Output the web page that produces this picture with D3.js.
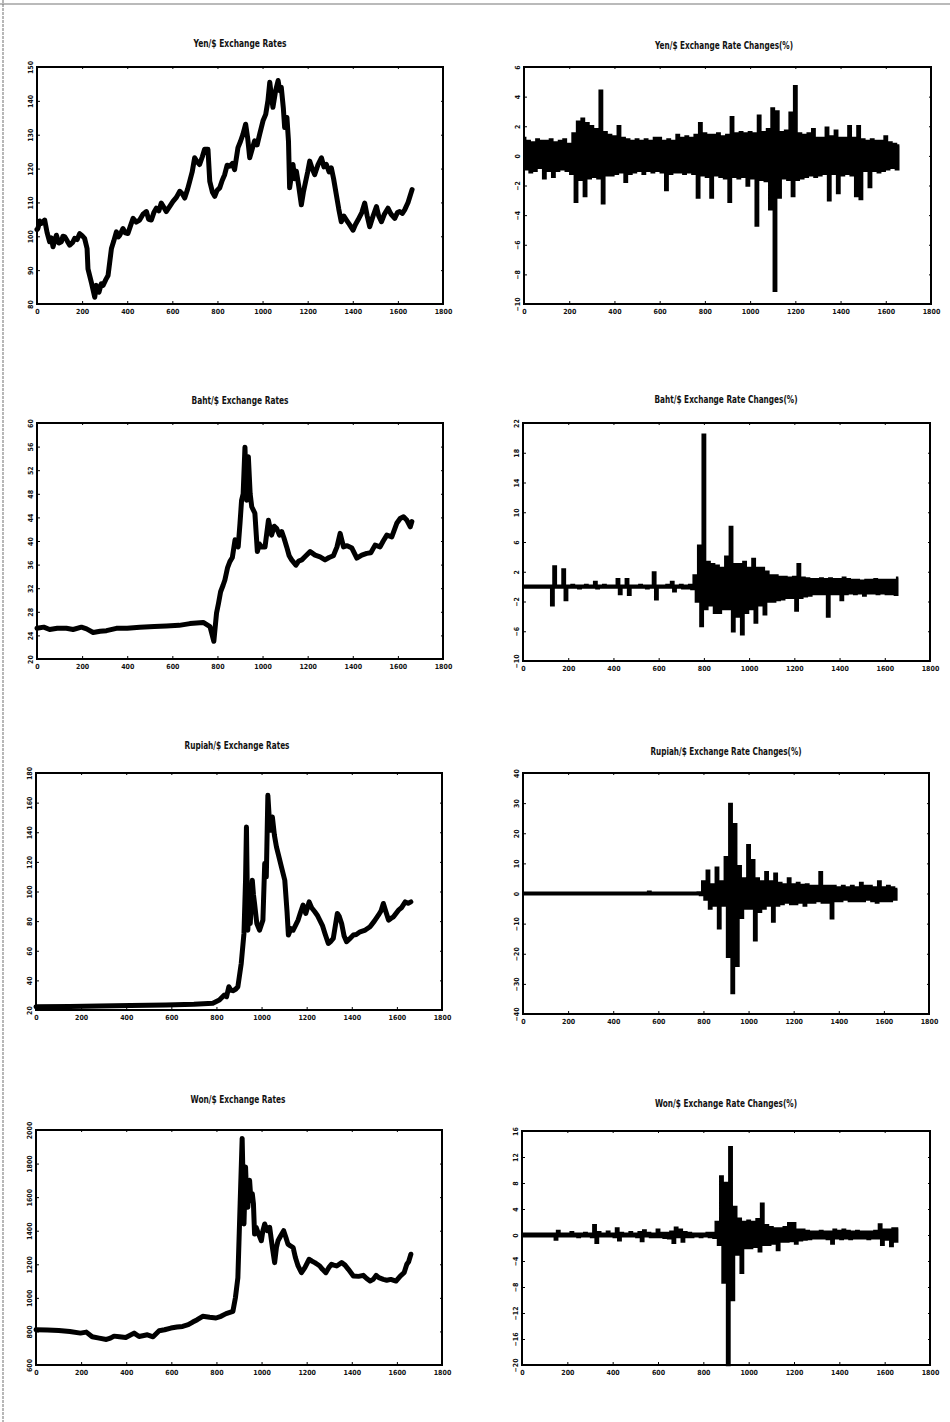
<!DOCTYPE html>
<html>
<head>
<meta charset="utf-8">
<script src="https://cdn.jsdelivr.net/npm/d3@7/dist/d3.min.js"></script>
<style>
body { margin:0; background:#fff; }
svg text { font-family: "Liberation Sans Narrow", "DejaVu Sans Condensed", sans-serif; font-weight: bold; fill:#111; }
</style>
</head>
<body>
<svg id="chart" width="950" height="1422"></svg>
<script>
var svg = d3.select("#chart")

// x axis: trading day index
var x_ticks = [0,200,400,600,800,1000,1200,1400,1600,1800]
var change_step = 10

// level series, [day, rate]
var yen_rates = [[0,102],[4,102.3],[12,104.5],[19,103.8],[34,104.8],[45,101],[56,98.4],[64,99.5],[71,96.9],[86,100.3],[97,98],[108,98.4],[115,100],[123,99.9],[135,98.5],[145,97.4],[158,98.2],[167,99.4],[178,99],[189,100.8],[200,100.2],[211,99.4],[222,96.4],[226,90.4],[241,86.4],[256,82],[263,85.5],[270,84],[275,83.5],[285,86],[293,85.5],[305,87.2],[315,88.4],[330,96.4],[340,98.5],[352,101.3],[360,99.8],[367,100.3],[381,102.3],[392,101],[403,100.8],[414,103],[426,105.3],[440,104.2],[455,104.8],[470,106.5],[485,107.3],[495,105],[507,104.8],[518,107],[529,108.3],[540,107.5],[551,109.8],[563,108.5],[573,107.3],[590,109],[603,110.3],[618,111.5],[633,113.3],[645,112.5],[655,111.3],[668,114],[677,116.2],[688,119],[699,123.2],[710,122],[721,121.2],[733,123.5],[743,125.7],[758,125.7],[766,116.2],[778,113],[788,111.8],[798,113.5],[810,114.3],[821,116.5],[832,118.2],[843,121],[854,120.7],[866,121.5],[876,119.7],[891,126.2],[902,128],[913,130.1],[925,133.1],[934,129],[943,123.2],[955,126],[965,128.2],[976,127],[987,130.1],[1002,134.1],[1014,136],[1024,140.1],[1032,145.5],[1040,141],[1046,138.1],[1058,143],[1069,146],[1076,143],[1083,144],[1092,138],[1098,132.1],[1108,135.1],[1115,128],[1120,114.3],[1135,121.2],[1142,117],[1150,119.2],[1160,115],[1172,109.3],[1181,113],[1191,116.2],[1200,119],[1209,122.2],[1220,120],[1231,118.2],[1245,121],[1261,123.2],[1272,120.5],[1283,121.2],[1295,119],[1305,120.2],[1315,117],[1327,112.3],[1338,108],[1349,104.3],[1360,106],[1372,104.8],[1385,103.5],[1401,101.8],[1412,103.5],[1423,104.8],[1440,107],[1453,109.8],[1464,106],[1475,102.8],[1490,106],[1505,108.8],[1515,106],[1527,104.3],[1540,106.5],[1556,108.3],[1570,106.5],[1586,105.3],[1598,107],[1608,107.3],[1620,106.8],[1630,107.8],[1645,110],[1663,113.8]]

var baht_rates = [[0,25.2],[30,25.4],[56,25.0],[90,25.2],[130,25.2],[160,25.0],[197,25.4],[220,25.1],[249,24.5],[280,24.7],[308,24.8],[352,25.2],[400,25.2],[456,25.4],[520,25.5],[574,25.6],[630,25.7],[678,26],[737,26.2],[767,25.5],[784,23],[796,27.8],[805,29.5],[814,31.4],[825,32.5],[833,33.4],[845,35.5],[855,36.5],[866,37.2],[878,40.2],[892,39],[900,43],[907,46.9],[914,48],[922,55.9],[929,46.9],[937,54.3],[945,48],[952,45.8],[966,44.7],[977,38.2],[986,39.5],[996,39],[1011,39],[1026,43.5],[1040,41],[1052,42.5],[1063,42.1],[1075,41],[1085,41.6],[1095,40.5],[1107,39],[1118,37.5],[1129,36.8],[1148,35.9],[1160,36.6],[1174,36.8],[1190,37.4],[1211,38.2],[1233,37.6],[1255,37.3],[1277,36.8],[1295,37.2],[1314,37.5],[1330,39],[1344,41.3],[1359,39],[1375,39.2],[1396,38.8],[1418,37.1],[1440,37.6],[1462,37.9],[1480,38],[1499,39.3],[1521,39],[1535,40],[1551,41],[1573,40.7],[1595,43],[1610,43.8],[1625,44.1],[1640,43.5],[1655,42.4],[1662,43.3]]

var rupiah_rates = [[0,22.2],[150,22.4],[279,22.7],[420,23],[576,23.4],[700,23.8],[784,24.5],[813,26.7],[835,30.1],[845,29],[855,35.7],[863,33.5],[873,33],[885,34],[895,35.7],[910,51.5],[922,71.7],[929,107.6],[933,143.6],[939,73.9],[944,90],[950,78.4],[959,107.6],[964,98],[969,91.9],[979,78.4],[991,73.9],[1006,80.7],[1014,118.9],[1021,109.9],[1028,164.9],[1034,150],[1039,141.3],[1048,150.3],[1057,138],[1066,130.1],[1076,124],[1088,116.6],[1103,107.6],[1113,86.3],[1119,70.6],[1130,75],[1140,73.9],[1150,77],[1162,80.7],[1173,86],[1184,90.8],[1196,85.2],[1211,93],[1222,89],[1236,86.3],[1247,84],[1258,80.7],[1270,77],[1281,71.7],[1296,64.9],[1305,66],[1318,68.3],[1336,85.2],[1345,83],[1355,78.4],[1366,70],[1377,66.1],[1390,68],[1407,70.6],[1420,71],[1437,72.8],[1460,74],[1481,76.2],[1500,80],[1518,84],[1530,87],[1540,91.9],[1552,86],[1563,80.7],[1575,82],[1585,82.9],[1607,87.4],[1620,89],[1637,93],[1650,92],[1662,93]]

var won_rates = [[0,810],[50,808],[101,806],[150,800],[197,790],[223,796],[249,768],[280,760],[312,752],[330,760],[346,772],[370,768],[398,764],[435,790],[457,770],[494,780],[519,768],[546,804],[570,810],[598,820],[625,826],[650,830],[675,840],[695,856],[715,870],[739,890],[770,884],[798,880],[820,890],[843,906],[873,920],[884,1000],[895,1120],[905,1560],[914,1950],[922,1440],[929,1780],[934,1600],[939,1540],[947,1700],[953,1580],[959,1620],[964,1560],[969,1380],[976,1420],[984,1390],[999,1340],[1006,1400],[1014,1440],[1025,1400],[1036,1420],[1048,1300],[1058,1210],[1066,1300],[1073,1340],[1085,1370],[1098,1400],[1108,1360],[1117,1320],[1128,1310],[1140,1300],[1150,1240],[1162,1190],[1177,1150],[1192,1180],[1211,1230],[1222,1220],[1236,1210],[1247,1200],[1258,1190],[1270,1170],[1285,1150],[1298,1180],[1310,1200],[1320,1195],[1333,1190],[1355,1210],[1370,1195],[1385,1170],[1407,1130],[1430,1128],[1451,1134],[1466,1115],[1481,1100],[1495,1110],[1508,1134],[1520,1120],[1540,1110],[1555,1105],[1573,1110],[1596,1100],[1615,1130],[1632,1150],[1644,1200],[1652,1215],[1662,1260]]

// daily % changes, one value every change_step days
var yen_changes = [1.2,-0.9,1.0,-1.1,0.9,-1.0,1.1,-0.8,1.0,-1.5,
    1.0,-1.0,1.1,-1.4,0.9,-1.0,1.0,-0.9,1.1,-1.0,
    0.8,-1.2,1.5,-3.1,2.3,-1.6,2.5,-2.7,2.2,-1.5,
    2.0,-1.4,1.8,-1.5,4.4,-3.2,1.6,-1.3,1.4,-1.3,
    1.3,-1.2,2.0,-1.1,1.2,-1.75,1.1,-1.2,1.0,-1.1,
    1.1,-1.0,1.0,-1.2,1.1,-1.0,1.0,-1.1,1.2,-1.0,
    1.2,-1.1,1.0,-2.3,1.1,-1.2,1.0,-1.1,1.4,-1.1,
    1.2,-1.2,1.3,-1.1,1.2,-1.2,1.4,-2.8,2.2,-1.3,
    1.5,-1.4,1.4,-2.8,1.4,-1.3,1.5,-1.4,1.3,-1.5,
    1.4,-3.1,2.6,-1.4,1.5,-1.5,1.6,-1.4,1.5,-2.0,
    1.6,-1.5,1.5,-4.7,2.7,-1.6,1.6,-1.7,1.8,-3.6,
    3.2,-9.1,3.0,-2.8,1.6,-1.5,1.7,-1.6,2.9,-2.7,
    4.7,-1.6,1.5,-1.5,1.4,-1.4,1.5,-1.3,1.8,-1.4,
    1.2,-1.3,1.2,-1.2,1.9,-3.0,1.3,-1.2,1.7,-2.5,
    1.2,-1.3,1.2,-1.2,2.0,-1.3,1.2,-2.7,2.0,-2.9,
    1.1,-1.0,1.0,-2.1,1.1,-1.0,1.0,-1.1,1.0,-1.0,
    1.3,-0.9,0.9,-0.8,0.8,-0.9,0.7]

var baht_changes = [0.1,-0.1,0.1,-0.1,0.1,-0.1,0.1,-0.1,0.1,-0.1,
    0.1,-0.1,0.1,-2.5,2.7,-0.1,0.1,-0.1,2.3,-1.8,
    0.1,-0.1,0.2,-0.1,0.1,-0.2,0.1,-0.1,0.2,-0.1,
    0.1,-0.1,0.6,-0.2,0.1,-0.1,0.2,-0.1,0.1,-0.1,
    0.1,-0.1,1.0,-1.0,0.1,-0.1,1.0,-1.1,0.1,-0.1,
    0.1,-0.1,0.2,-0.1,0.1,-0.2,0.1,-0.1,1.9,-1.7,
    0.1,-0.1,0.1,-0.1,0.2,-0.1,0.6,-0.6,0.1,-0.1,
    0.2,-0.2,0.1,-0.2,0.2,-0.3,1.5,-2.0,5.5,-5.3,
    20.4,-3.0,3.3,-2.5,3.0,-3.5,2.8,-3.5,2.5,-3.0,
    4.0,-3.0,8.0,-6.0,3.0,-4.0,3.0,-6.4,3.3,-3.5,
    2.5,-3.0,3.7,-4.8,2.5,-2.5,2.5,-3.7,2.0,-2.0,
    1.5,-2.0,1.5,-1.8,1.3,-1.7,1.3,-1.5,1.2,-1.5,
    1.3,-3.2,3.0,-1.5,1.2,-1.3,1.1,-1.2,1.0,-1.0,
    1.0,-1.0,1.1,-1.0,1.0,-4.0,1.1,-1.0,1.0,-1.0,
    1.0,-1.8,1.2,-1.0,1.0,-0.9,0.9,-1.0,0.9,-0.9,
    0.8,-1.2,0.9,-0.9,0.9,-0.9,1.0,-1.0,0.9,-0.9,
    0.9,-1.0,0.9,-1.0,0.9,-1.1,1.2]

var rupiah_changes = [0.2,-0.2,0.2,-0.2,0.2,-0.2,0.2,-0.2,0.2,-0.2,
    0.2,-0.2,0.2,-0.2,0.2,-0.2,0.2,-0.2,0.2,-0.2,
    0.2,-0.2,0.2,-0.2,0.2,-0.2,0.2,-0.2,0.2,-0.2,
    0.2,-0.2,0.2,-0.2,0.2,-0.2,0.2,-0.2,0.2,-0.2,
    0.2,-0.2,0.2,-0.2,0.2,-0.2,0.2,-0.2,0.2,-0.2,
    0.2,-0.2,0.2,-0.2,0.2,-0.2,0.6,-0.2,0.2,-0.2,
    0.2,-0.2,0.2,-0.2,0.2,-0.2,0.2,-0.2,0.2,-0.2,
    0.2,-0.2,0.2,-0.2,0.2,-0.2,0.2,-0.2,0.3,-0.5,
    4.0,-2.0,7.5,-5.0,3.0,-4.0,8.5,-11.5,4.0,-4.0,
    12.0,-21.0,29.7,-33.0,23.0,-24.0,9.0,-8.0,5.0,-5.0,
    16.0,-5.0,11.0,-15.5,5.0,-6.0,4.0,-5.0,7.0,-4.0,
    4.0,-9.3,6.5,-4.0,3.5,-3.5,3.0,-3.0,5.0,-3.5,
    3.0,-3.5,3.5,-3.0,2.8,-4.0,3.0,-3.0,2.5,-3.0,
    2.5,-2.5,7.0,-3.0,2.5,-3.0,2.5,-8.2,2.5,-2.5,
    2.0,-2.5,2.5,-2.0,2.0,-2.5,2.5,-2.5,2.0,-2.5,
    3.5,-2.5,2.5,-2.0,2.5,-2.5,2.0,-3.0,4.0,-2.5,
    2.0,-2.5,2.5,-2.5,2.0,-2.0,1.5]

var won_changes = [0.2,-0.2,0.2,-0.2,0.2,-0.2,0.2,-0.2,0.2,-0.2,
    0.2,-0.2,0.2,-0.2,0.2,-0.7,0.6,-0.2,0.2,-0.2,
    0.2,-0.2,0.4,-0.2,0.2,-0.3,0.2,-0.2,0.3,-0.2,
    0.2,-0.3,1.5,-1.2,0.4,-0.2,0.2,-0.2,0.5,-0.2,
    0.2,-0.3,1.0,-0.8,0.3,-0.2,0.2,-0.2,0.4,-0.2,
    0.2,-0.3,0.4,-0.9,0.7,-0.2,0.3,-0.3,0.2,-0.3,
    0.8,-0.3,0.3,-0.4,0.3,-0.5,0.5,-1.2,1.1,-0.3,
    0.8,-1.0,0.4,-0.3,0.3,-0.3,0.2,-0.2,0.2,-0.3,
    0.2,-0.2,0.3,-0.3,0.3,-0.4,2.0,-1.5,9.0,-7.3,
    8.0,-20.0,13.5,-10.0,4.3,-3.0,2.5,-5.8,2.0,-2.0,
    2.2,-2.0,2.0,-1.8,2.4,-2.5,4.8,-1.5,1.5,-1.5,
    1.2,-1.3,1.0,-2.3,1.0,-1.0,1.2,-1.0,1.8,-0.9,
    1.8,-1.3,0.8,-0.8,0.8,-0.7,0.6,-0.6,0.5,-0.5,
    0.5,-0.5,0.6,-0.5,0.5,-0.6,0.5,-1.3,0.8,-0.5,
    0.6,-0.6,0.8,-0.5,0.6,-0.6,0.5,-0.5,0.6,-0.5,
    0.5,-0.5,0.5,-0.6,0.5,-0.5,0.6,-0.5,1.6,-1.5,
    0.8,-0.7,0.8,-1.7,1.0,-1.0,1.0]

// y tick labels
var yen_rate_ticks = [80,90,100,110,120,130,140,150]
var baht_rate_ticks = [20,24,28,32,36,40,44,48,52,56,60]
var rupiah_rate_ticks = [20,40,60,80,100,120,140,160,180]
var won_rate_ticks = [600,800,1000,1200,1400,1600,1800,2000]
var yen_change_ticks = [-10,-8,-6,-4,-2,0,2,4,6]
var baht_change_ticks = [-10,-6,-2,2,6,10,14,18,22]
var rupiah_change_ticks = [-40,-30,-20,-10,0,10,20,30,40]
var won_change_ticks = [-20,-16,-12,-8,-4,0,4,8,12,16]

var titles = ["Yen/$ Exchange Rates", "Yen/$ Exchange Rate Changes(%)",
              "Baht/$ Exchange Rates", "Baht/$ Exchange Rate Changes(%)",
              "Rupiah/$ Exchange Rates", "Rupiah/$ Exchange Rate Changes(%)",
              "Won/$ Exchange Rates", "Won/$ Exchange Rate Changes(%)"]

// layout: box = [left, top, right, bottom], title position and width
var panels = [
    {title: titles[0], rates: yen_rates, ticks: yen_rate_ticks, box: [37,67,443,304], tx: 240, ty: 47, tw: 93},
    {title: titles[1], changes: yen_changes, ticks: yen_change_ticks, box: [524,67,931,304], tx: 724, ty: 49, tw: 138},
    {title: titles[2], rates: baht_rates, ticks: baht_rate_ticks, box: [37,423,443,659], tx: 240, ty: 404, tw: 97},
    {title: titles[3], changes: baht_changes, ticks: baht_change_ticks, box: [523,423,930,661], tx: 726, ty: 403, tw: 143},
    {title: titles[4], rates: rupiah_rates, ticks: rupiah_rate_ticks, box: [36,773,442,1010], tx: 237, ty: 749, tw: 105},
    {title: titles[5], changes: rupiah_changes, ticks: rupiah_change_ticks, box: [523,773,929,1014], tx: 726, ty: 755, tw: 151},
    {title: titles[6], rates: won_rates, ticks: won_rate_ticks, box: [36,1130,442,1365], tx: 238, ty: 1103, tw: 95},
    {title: titles[7], changes: won_changes, ticks: won_change_ticks, box: [522,1131,930,1365], tx: 726, ty: 1107, tw: 142}
]

// scanned page frame
svg.append("line").attr("x1",3).attr("y1",0).attr("x2",3).attr("y2",1422)
    .attr("stroke","#888").attr("stroke-width",1.2).attr("stroke-dasharray","3,1")
svg.append("line").attr("x1",0).attr("y1",4).attr("x2",950).attr("y2",4)
    .attr("stroke","#777").attr("stroke-width",1.2)

function draw_panel(p){
    var b = p.box
    var g = svg.append("g")
    var x = d3.scaleLinear().domain([0,1800]).range([b[0], b[2]])
    var y = d3.scaleLinear().domain([p.ticks[0], p.ticks[p.ticks.length-1]]).range([b[3], b[1]])

    g.append("text")
        .attr("x", p.tx).attr("y", p.ty)
        .attr("text-anchor","middle")
        .attr("font-size", 10)
        .attr("textLength", p.tw)
        .attr("lengthAdjust","spacingAndGlyphs")
        .text(p.title)

    var xa = g.append("g").attr("transform","translate(0," + b[3] + ")")
        .call(d3.axisBottom(x).tickValues(x_ticks).tickSize(-3).tickPadding(5).tickFormat(d3.format("d")))
    xa.selectAll("text").attr("font-size",7)

    var ya = g.append("g").attr("transform","translate(" + b[0] + ",0)")
        .call(d3.axisLeft(y).tickValues(p.ticks).tickSize(-3).tickFormat(d3.format("d")))
    ya.selectAll("text")
        .attr("font-size",7)
        .attr("x",0).attr("dy","0.35em")
        .attr("text-anchor","middle")
        .attr("transform","translate(-6,0) rotate(-90)")

    g.append("g").attr("transform","translate(0," + b[1] + ")")
        .call(d3.axisTop(x).tickValues(x_ticks).tickSize(-2).tickFormat(""))
    g.append("g").attr("transform","translate(" + b[2] + ",0)")
        .call(d3.axisRight(y).tickValues(p.ticks).tickSize(-2).tickFormat(""))

    g.selectAll(".domain").remove()
    g.selectAll(".tick line").attr("stroke","#000").attr("stroke-width",1)

    if(p.rates){
        var line = d3.line().x(function(d){return x(d[0])}).y(function(d){return y(d[1])})
        g.append("path").datum(p.rates)
            .attr("d", line)
            .attr("fill","none").attr("stroke","#000")
            .attr("stroke-width",5)
            .attr("stroke-linejoin","round").attr("stroke-linecap","round")
    }else{
        // dense daily moves: step drawing keeps the band solid like the print
        var line = d3.line().curve(d3.curveStep)
            .x(function(d,i){return x(i*change_step)}).y(function(d){return y(d)})
        g.append("path").datum(p.changes)
            .attr("d", line)
            .attr("fill","none").attr("stroke","#000")
            .attr("stroke-width",2.6)
            .attr("stroke-linejoin","miter").attr("stroke-linecap","butt")
    }

    g.append("rect")
        .attr("x", b[0]).attr("y", b[1])
        .attr("width", b[2]-b[0]).attr("height", b[3]-b[1])
        .attr("fill","none").attr("stroke","#000").attr("stroke-width",2)
}

for(var i = 0; i<panels.length; i++){
    draw_panel(panels[i])
}
</script>
</body>
</html>
